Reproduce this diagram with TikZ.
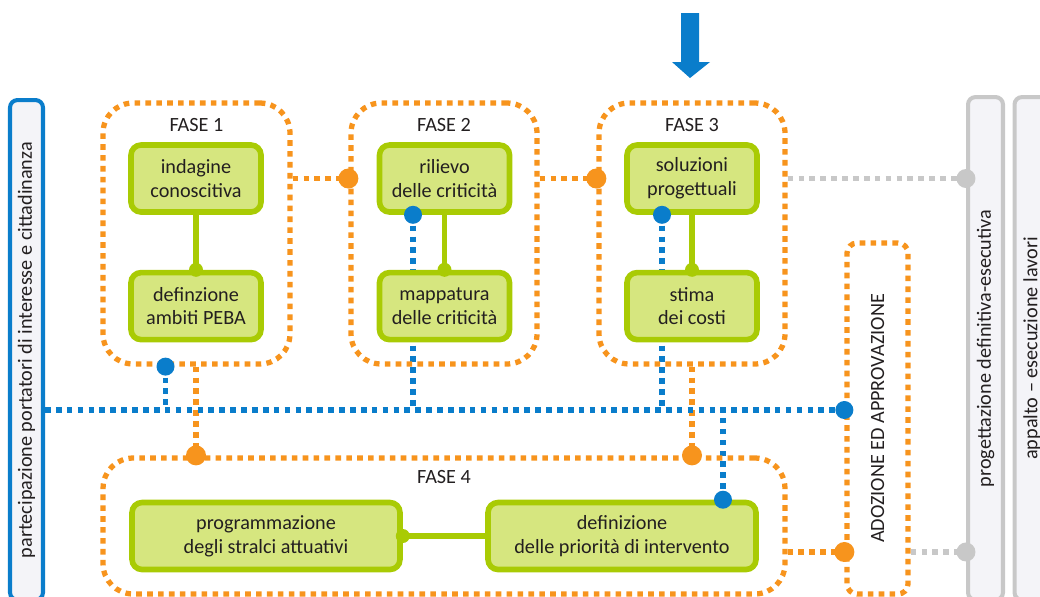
\documentclass[tikz,border=0pt]{standalone}
\usepackage{fontspec}
\setmainfont{Carlito}
\usepackage{tikz}
\usetikzlibrary{positioning,backgrounds}
\definecolor{peba_orange}{HTML}{F7941D}
\definecolor{peba_blue}{HTML}{0A7DCB}
\definecolor{peba_green}{HTML}{A9CB04}
\definecolor{peba_fill}{HTML}{D6E67F}
\definecolor{peba_gray}{HTML}{C8C8C8}
\definecolor{peba_pale}{HTML}{F4F4F8}
\definecolor{peba_text}{HTML}{231F20}

\tikzset{
  txt/.style={text=peba_text, font=\fontsize{11.5}{13.6}\selectfont},
  fase/.style={draw=peba_orange, line width=3pt, dash pattern=on 3.2pt off 3pt,
    rounded corners=0.6cm, inner sep=0pt},
  faselab/.style={txt},
  attivita/.style={txt, draw=peba_green, fill=peba_fill, line width=3.2pt,
    rounded corners=0.2cm, minimum width=2.6cm, minimum height=1.34cm, align=center},
  sidebar/.style={txt, rotate=90, line width=2.3pt, rounded corners=0.15cm, fill=peba_pale},
  ocon/.style={draw=peba_orange, line width=3pt, dash pattern=on 3.2pt off 3pt},
  bcon/.style={draw=peba_blue, line width=3pt, dash pattern=on 3.2pt off 3pt},
  gcon/.style={draw=peba_gray, line width=3pt, dash pattern=on 3.2pt off 3pt},
  glink/.style={draw=peba_green, line width=3.2pt},
  odot/.style={circle, fill=peba_orange, minimum size=0.4cm, inner sep=0pt},
  bdot/.style={circle, fill=peba_blue, minimum size=0.36cm, inner sep=0pt},
  gydot/.style={circle, fill=peba_gray, minimum size=0.38cm, inner sep=0pt},
  grdot/.style={circle, fill=peba_green, minimum size=0.28cm, inner sep=0pt},
}

\begin{document}
\begin{tikzpicture}[x=0.02cm, y=-0.02cm]
\clip (0,0) rectangle (1040,596);

% bande laterali
\node[sidebar, draw=peba_blue, minimum width=10cm, minimum height=0.66cm] (part) at (26.5,350)
  {partecipazione portatori di interesse e cittadinanza};
\node[sidebar, draw=peba_gray, minimum width=10.06cm, minimum height=0.7cm] (proj) at (985.5,348.5)
  {progettazione definitiva-esecutiva};
\node[sidebar, draw=peba_gray, minimum width=10.06cm, minimum height=0.7cm] (appalto) at (1032,348.5)
  {appalto -- esecuzione lavori};

% fasi
\node[fase, minimum width=3.74cm, minimum height=5.22cm] (f1) at (196.5,233.5) {};
\node[fase, minimum width=3.72cm, minimum height=5.22cm] (f2) at (444,233.5) {};
\node[fase, minimum width=3.72cm, minimum height=5.22cm] (f3) at (692,233.5) {};
\node[fase, minimum width=13.64cm, minimum height=2.72cm] (f4) at (444,526) {};
\node[fase, rounded corners=0.2cm, minimum width=1.22cm, minimum height=7.02cm] (adoz) at (877.5,418.5) {};
\node[txt, rotate=90] (adozlab) at (adoz.center) {ADOZIONE ED APPROVAZIONE};

\node[faselab] (f1lab) at ([yshift=-0.5cm]f1.north) {FASE 1};
\node[faselab] (f2lab) at ([yshift=-0.5cm]f2.north) {FASE 2};
\node[faselab] (f3lab) at ([yshift=-0.5cm]f3.north) {FASE 3};
\node[faselab] (f4lab) at ([yshift=-0.44cm]f4.north) {FASE 4};

% freccia
\fill[peba_blue] (681,13) -- (699,13) -- (699,62) -- (710,62) -- (690,78)
  -- (672,62) -- (681,62) -- cycle;

% punti di aggancio
\coordinate (busy) at (0,410);
\coordinate (adozin) at ([yshift=-2.67cm]adoz.west);

% attivita
\node[attivita] (a1) at (196,178.5) {indagine\\conoscitiva};
\node[attivita, below=1.1cm of a1] (a2) {definzione\\ambiti PEBA};
\node[attivita] (b1) at (444.5,178.5) {rilievo\\delle criticità};
\node[attivita, below=1.1cm of b1] (b2) {mappatura\\delle criticità};
\node[attivita] (c1) at (692,178.5) {soluzioni\\progettuali};
\node[attivita, below=1.1cm of c1] (c2) {stima\\dei costi};
\node[attivita, minimum width=5.36cm] (d1) at (266,536) {programmazione\\degli stralci attuativi};
\node[attivita, minimum width=5.36cm] (d2) at (622,536) {definizione\\delle priorità di intervento};

\coordinate (p1) at ([xshift=-0.62cm]f1.south);
\coordinate (p2) at ([xshift=-0.63cm]b1.south);
\coordinate (p3) at ([xshift=-0.6cm]c1.south);
\coordinate (p4) at ([xshift=2.02cm]d2.north);

% collegamenti
\begin{scope}[on background layer]
\draw[ocon] (f1.east |- a1) -- (f2.west |- a1);
\draw[ocon] (f2.east |- b1) -- (f3.west |- b1);
\draw[ocon] (f1.south -| a1) -- (f4.north -| a1);
\draw[ocon] (f3.south -| c1) -- (f4.north -| c1);
\draw[ocon] (f4.east |- adozin) -- (adozin);
\draw[gcon] (f3.east |- c1) -- (proj.north |- c1);
\draw[gcon] (adoz.east |- adozin) -- (proj.north |- adozin);
\draw[bcon] (part.south |- busy) -- (adoz.west |- busy);
\draw[bcon] (p1) -- (p1 |- busy);
\draw[bcon] (p2) -- (p2 |- busy);
\draw[bcon] (p3) -- (p3 |- busy);
\draw[bcon] (p4) -- (p4 |- busy);
\draw[glink] (a1) -- (a2);
\draw[glink] (b1) -- (b2);
\draw[glink] (c1) -- (c2);
\draw[glink] (d1) -- (d2);
\end{scope}

% nodi
\node[grdot] (g1) at (a2.north) {};
\node[grdot] (g2) at (b2.north) {};
\node[grdot] (g3) at (c2.north) {};
\node[grdot] (g4) at (d1.east) {};
\node[odot] (o1) at (f2.west |- a1) {};
\node[odot] (o2) at (f3.west |- b1) {};
\node[odot] (o3) at (f4.north -| a1) {};
\node[odot] (o4) at (f4.north -| c1) {};
\node[odot] (o5) at (adozin) {};
\node[bdot] (q1) at (p1) {};
\node[bdot] (q2) at (p2) {};
\node[bdot] (q3) at (p3) {};
\node[bdot] (q4) at (p4) {};
\node[bdot] (q5) at (adoz.west |- busy) {};
\node[gydot] (y1) at (proj.north |- c1) {};
\node[gydot] (y2) at (proj.north |- adozin) {};
\end{tikzpicture}
\end{document}
